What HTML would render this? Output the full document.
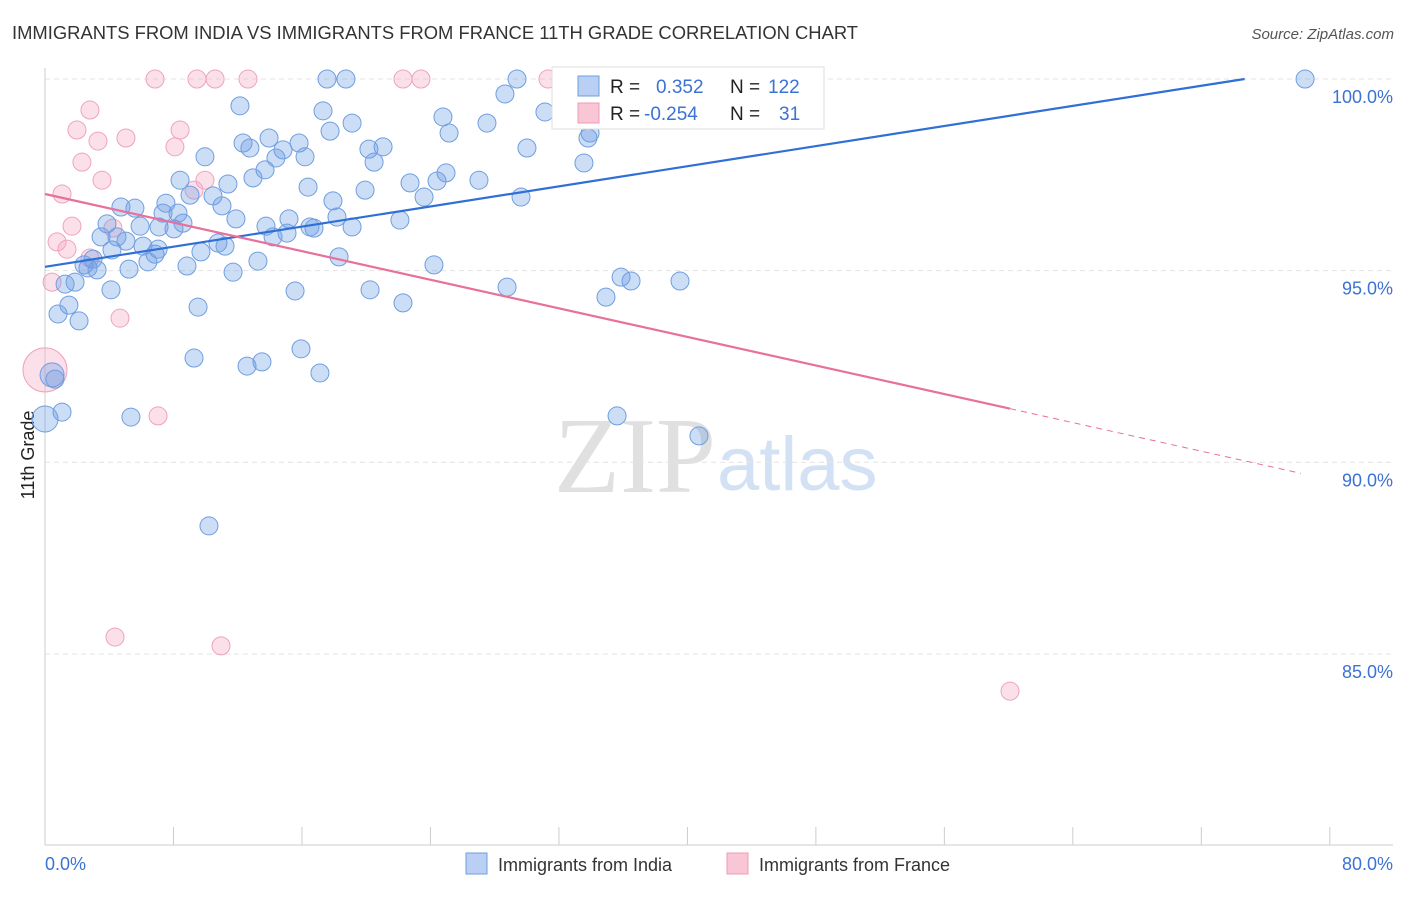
<!DOCTYPE html>
<html><head><meta charset="utf-8"><style>
body{margin:0;background:#fff;font-family:"Liberation Sans",sans-serif;}
</style></head><body>
<svg id="c" width="1406" height="892" xmlns="http://www.w3.org/2000/svg">
<text x="12" y="39" font-size="18.4" fill="#333">IMMIGRANTS FROM INDIA VS IMMIGRANTS FROM FRANCE 11TH GRADE CORRELATION CHART</text>
<text x="1394" y="39" font-size="15" fill="#555" text-anchor="end" font-style="italic">Source: ZipAtlas.com</text>
<text x="716" y="492" font-size="108" fill="#e0e0e0" text-anchor="end" font-family="Liberation Serif">ZIP</text>
<text x="717" y="490" font-size="76" fill="#d3e1f5">atlas</text>
<text transform="translate(34,455) rotate(-90)" font-size="18" fill="#222" text-anchor="middle">11th Grade</text>
<g id="grid"></g><g id="pts"></g><g id="lines"></g>
<g>
<rect x="552" y="67" width="272" height="62" fill="#fff" stroke="#ddd"/>
<rect x="578" y="76" width="21" height="20" fill="#b9d0f4" stroke="#6f9ee0"/>
<rect x="578" y="103" width="21" height="20" fill="#f9c6d5" stroke="#ee9bb6"/>
<text x="610" y="93" font-size="19" fill="#222">R =</text><text x="656" y="93" font-size="19" fill="#3b72d4">0.352</text>
<text x="730" y="93" font-size="19" fill="#222">N =</text><text x="768" y="93" font-size="19" fill="#3b72d4">122</text>
<text x="610" y="120" font-size="19" fill="#222">R =</text><text x="644" y="120" font-size="19" fill="#3b72d4">-0.254</text>
<text x="730" y="120" font-size="19" fill="#222">N =</text><text x="779" y="120" font-size="19" fill="#3b72d4">31</text>
</g>
<g>
<rect x="466" y="853" width="21" height="21" fill="#b9d0f4" stroke="#6f9ee0"/>
<text x="498" y="871" font-size="18" fill="#333">Immigrants from India</text>
<rect x="727" y="853" width="21" height="21" fill="#f9c6d5" stroke="#ee9bb6"/>
<text x="759" y="871" font-size="18" fill="#333">Immigrants from France</text>
</g>
<text x="45" y="870" font-size="18" fill="#3b72d4">0.0%</text>
<text x="1393" y="870" font-size="18" fill="#3b72d4" text-anchor="end">80.0%</text>
</svg>
<script>
const yTicks=[100,95,90,85];
const indiaX=[17.56,18.74,29.39,78.46,28.64,12.14,17.31,31.13,24.78,19.12,17.75,27.52,25.16,33.94,33.81,13.95,12.33,15.82,21.05,20.17,12.76,30.01,9.96,14.38,16.19,14.82,20.49,33.56,13.70,12.95,24.97,24.41,22.73,27.02,8.41,11.39,19.93,16.38,29.64,23.60,17.93,10.46,9.03,7.53,11.02,4.73,5.60,8.28,7.35,11.89,18.18,22.10,15.19,13.76,8.59,3.86,5.92,7.10,8.03,16.50,16.75,19.12,15.07,14.20,3.49,4.48,5.04,10.77,11.21,6.10,6.85,4.17,9.71,7.04,6.41,13.26,18.31,2.43,2.99,2.68,3.24,5.23,8.84,11.71,24.22,35.87,36.49,39.54,1.25,1.87,4.11,15.57,20.24,28.77,34.93,22.29,1.49,9.53,0.81,2.12,9.28,15.94,13.51,12.58,17.12,0.62,1.06,5.35,35.62,40.72,10.21,0,0.44];
const indiaY=[100,100,100,100,99.61,99.30,99.17,99.14,99.01,98.85,98.64,98.85,98.59,98.59,98.46,98.46,98.33,98.33,98.23,98.17,98.20,98.20,97.97,97.94,97.97,98.15,97.83,97.81,97.63,97.42,97.55,97.34,97.29,97.36,97.36,97.26,97.10,97.18,96.92,96.92,96.82,96.95,96.97,96.76,96.69,96.66,96.63,96.50,96.50,96.35,96.40,96.32,96.35,96.16,96.24,96.22,96.16,96.14,96.09,96.14,96.11,96.14,95.98,95.88,95.88,95.88,95.77,95.72,95.64,95.64,95.43,95.54,95.49,95.56,95.23,95.25,95.36,95.15,95.30,95.07,95.02,95.04,95.12,94.96,95.15,94.83,94.73,94.73,94.65,94.70,94.50,94.47,94.50,94.57,94.31,94.16,94.10,94.05,93.87,93.69,92.72,92.96,92.62,92.51,92.33,92.17,91.31,91.18,91.21,90.69,88.34,91.13,92.28];
const franceX=[6.85,9.46,10.59,12.64,22.29,23.41,31.32,2.80,1.99,3.30,5.04,8.41,8.09,2.30,3.55,9.96,9.28,1.06,1.68,4.23,0.75,1.37,2.80,0.44,4.67,7.04,4.36,10.96,60.09,0];
const franceY=[100,100,100,100,100,100,100,99.19,98.67,98.38,98.46,98.67,98.23,97.83,97.36,97.36,97.10,97.00,96.16,96.11,95.75,95.56,95.33,94.70,93.76,91.21,85.44,85.21,84.03,92.41];
const indiaTrend=[95.1,0.0656];
const franceTrend=[97.0,-0.0932];
const sx=v=>45+v*16.06, sy=v=>79+(100-v)*38.33;
const NS='http://www.w3.org/2000/svg';
function mk(t,a,p){const e=document.createElementNS(NS,t);for(const k in a)e.setAttribute(k,a[k]);p.appendChild(e);return e;}
const grid=document.getElementById('grid');
yTicks.forEach(t=>{const l=mk('line',{x1:45,x2:1393,y1:sy(t),y2:sy(t),stroke:'#e3e3e3','stroke-dasharray':'5,4'},grid);


const tx=mk('text',{x:1393,y:sy(t)+24,'font-size':18,fill:'#3b72d4','text-anchor':'end'},grid);tx.textContent=t.toFixed(1)+'%';

});
mk('line',{x1:45,x2:45,y1:68,y2:845,stroke:'#ccc'},grid);
mk('line',{x1:45,x2:1393,y1:845,y2:845,stroke:'#ccc'},grid);
for(let i=0;i<=10;i++){const t=mk('line',{x1:sx(i*8),x2:sx(i*8),y1:827,y2:845,stroke:'#ccc'},grid);

}
const pts=document.getElementById('pts');
function dots(X,Y,fill,stroke,name){X.forEach((x,i)=>{let r=9;if(x===0)r=name==='france-point'?22:13;if(name==='india-point'&&i===X.length-1)r=12;
const c=mk('circle',{cx:sx(x),cy:sy(Y[i]),r:r,fill:fill,stroke:stroke,'stroke-width':1},pts);

});}
dots(franceX,franceY,'rgba(244,166,194,0.35)','#efa3bd','france-point');
dots(indiaX,indiaY,'rgba(110,158,230,0.35)','#6f9ee0','india-point');
const lines=document.getElementById('lines');
const xe=(100-indiaTrend[0])/indiaTrend[1];
const bl=mk('line',{x1:sx(0),y1:sy(indiaTrend[0]),x2:sx(xe),y2:sy(100),stroke:'#2f6fd6','stroke-width':2.2},lines);


const pf=x=>franceTrend[0]+franceTrend[1]*x;
const pl=mk('line',{x1:sx(0),y1:sy(pf(0)),x2:sx(60.1),y2:sy(pf(60.1)),stroke:'#e8709a','stroke-width':2.2},lines);


const pd=mk('line',{x1:sx(60.1),y1:sy(pf(60.1)),x2:sx(78.2),y2:sy(pf(78.2)),stroke:'#e8709a','stroke-width':1,'stroke-dasharray':'6,5'},lines);


</script>
</body></html>
